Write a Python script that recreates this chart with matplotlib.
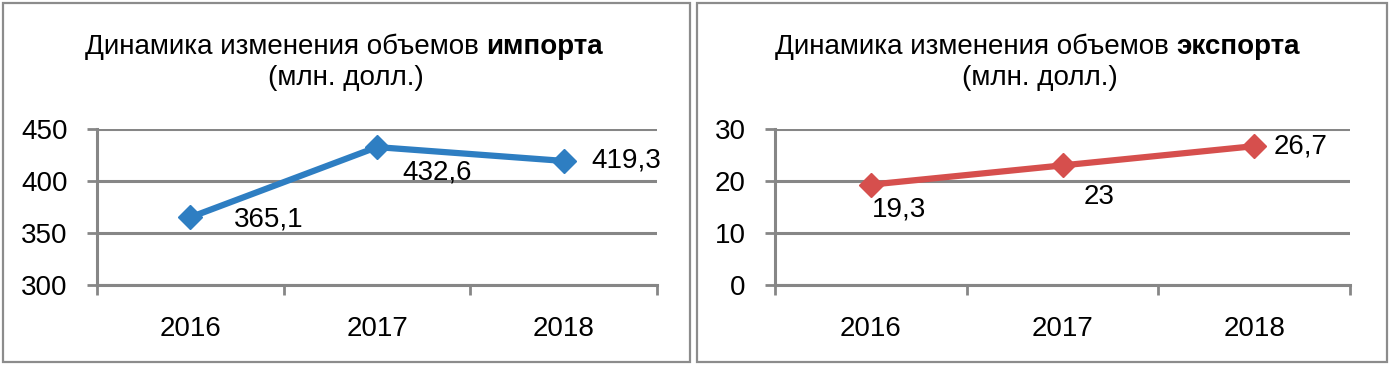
import matplotlib
matplotlib.use("Agg")
import matplotlib.pyplot as plt
from matplotlib.patches import Rectangle

years = ["2016", "2017", "2018"]
imports = [365.1, 432.6, 419.3]
exports = [19.3, 23, 26.7]
import_labels = ["365,1", "432,6", "419,3"]
export_labels = ["19,3", "23", "26,7"]

plt.rcParams['font.family'] = ['Liberation Sans', 'DejaVu Sans']

GRID = "#868686"
W, H = 1392, 367

fig = plt.figure(figsize=(W / 100, H / 100), dpi=100)

# panel frames
for x0, x1 in [(3, 690), (697, 1387)]:
    fig.add_artist(Rectangle((x0 / W, 1 - 362 / H), (x1 - x0) / W, 359 / H,
                             transform=fig.transFigure, fill=False,
                             edgecolor="#8c8c8c", linewidth=1.6))


def panel(left, right, vals, labels, color, ylim, yticks, offsets, word, tx, sub_x):
    ax = fig.add_axes([left / W, 1 - 285 / H, (right - left) / W, 156 / H])
    x = range(len(vals))
    ax.plot(x, vals, color=color, linewidth=4.5, marker="D", markersize=12,
            solid_capstyle="round", zorder=3, clip_on=False)
    for i, (v, lab) in enumerate(zip(vals, labels)):
        ax.annotate(lab, (i, v), xytext=offsets[i], textcoords="offset pixels",
                    ha="center", va="center", fontsize=20)
    ax.set_xlim(-0.5, 2.5)
    ax.set_ylim(*ylim)
    ax.set_yticks(yticks)
    ax.set_xticks([-0.5, 0.5, 1.5, 2.5])
    ax.set_xticklabels([])
    ax.set_xticks([0, 1, 2], minor=True)
    ax.set_xticklabels(years, minor=True, fontsize=20)
    ax.tick_params(axis="x", which="major", length=7, width=2, color=GRID)
    ax.tick_params(axis="x", which="minor", length=0, pad=22)
    ax.tick_params(axis="y", length=7, width=2, color=GRID, labelsize=20, pad=14)
    ax.grid(axis="y", color=GRID, linewidth=2.2)
    ax.set_axisbelow(True)
    for s in ["top", "right"]:
        ax.spines[s].set_visible(False)
    for s in ["left", "bottom"]:
        ax.spines[s].set_color(GRID)
        ax.spines[s].set_linewidth(2.2)
    t1 = fig.text(tx / W, 1 - 47 / H, "Динамика изменения объемов ",
                  ha="left", va="center", fontsize=20)
    ax.annotate(word, xy=(1, 0.5), xycoords=t1, ha="left", va="center",
                fontsize=20, fontweight="bold")
    fig.text(sub_x / W, 1 - 78 / H, "(млн. долл.)",
             ha="center", va="center", fontsize=20)


panel(97, 657, imports, import_labels, "#2e7ec2", (300, 450), [300, 350, 400, 450],
      [(78, -2), (60, -25), (63, 0)], "импорта", 85, 346)
panel(775, 1350, exports, export_labels, "#d64f4d", (0, 30), [0, 10, 20, 30],
      [(28, -25), (37, -32), (46, 0)], "экспорта", 775, 1040)

fig.savefig("out.png", dpi=100)
